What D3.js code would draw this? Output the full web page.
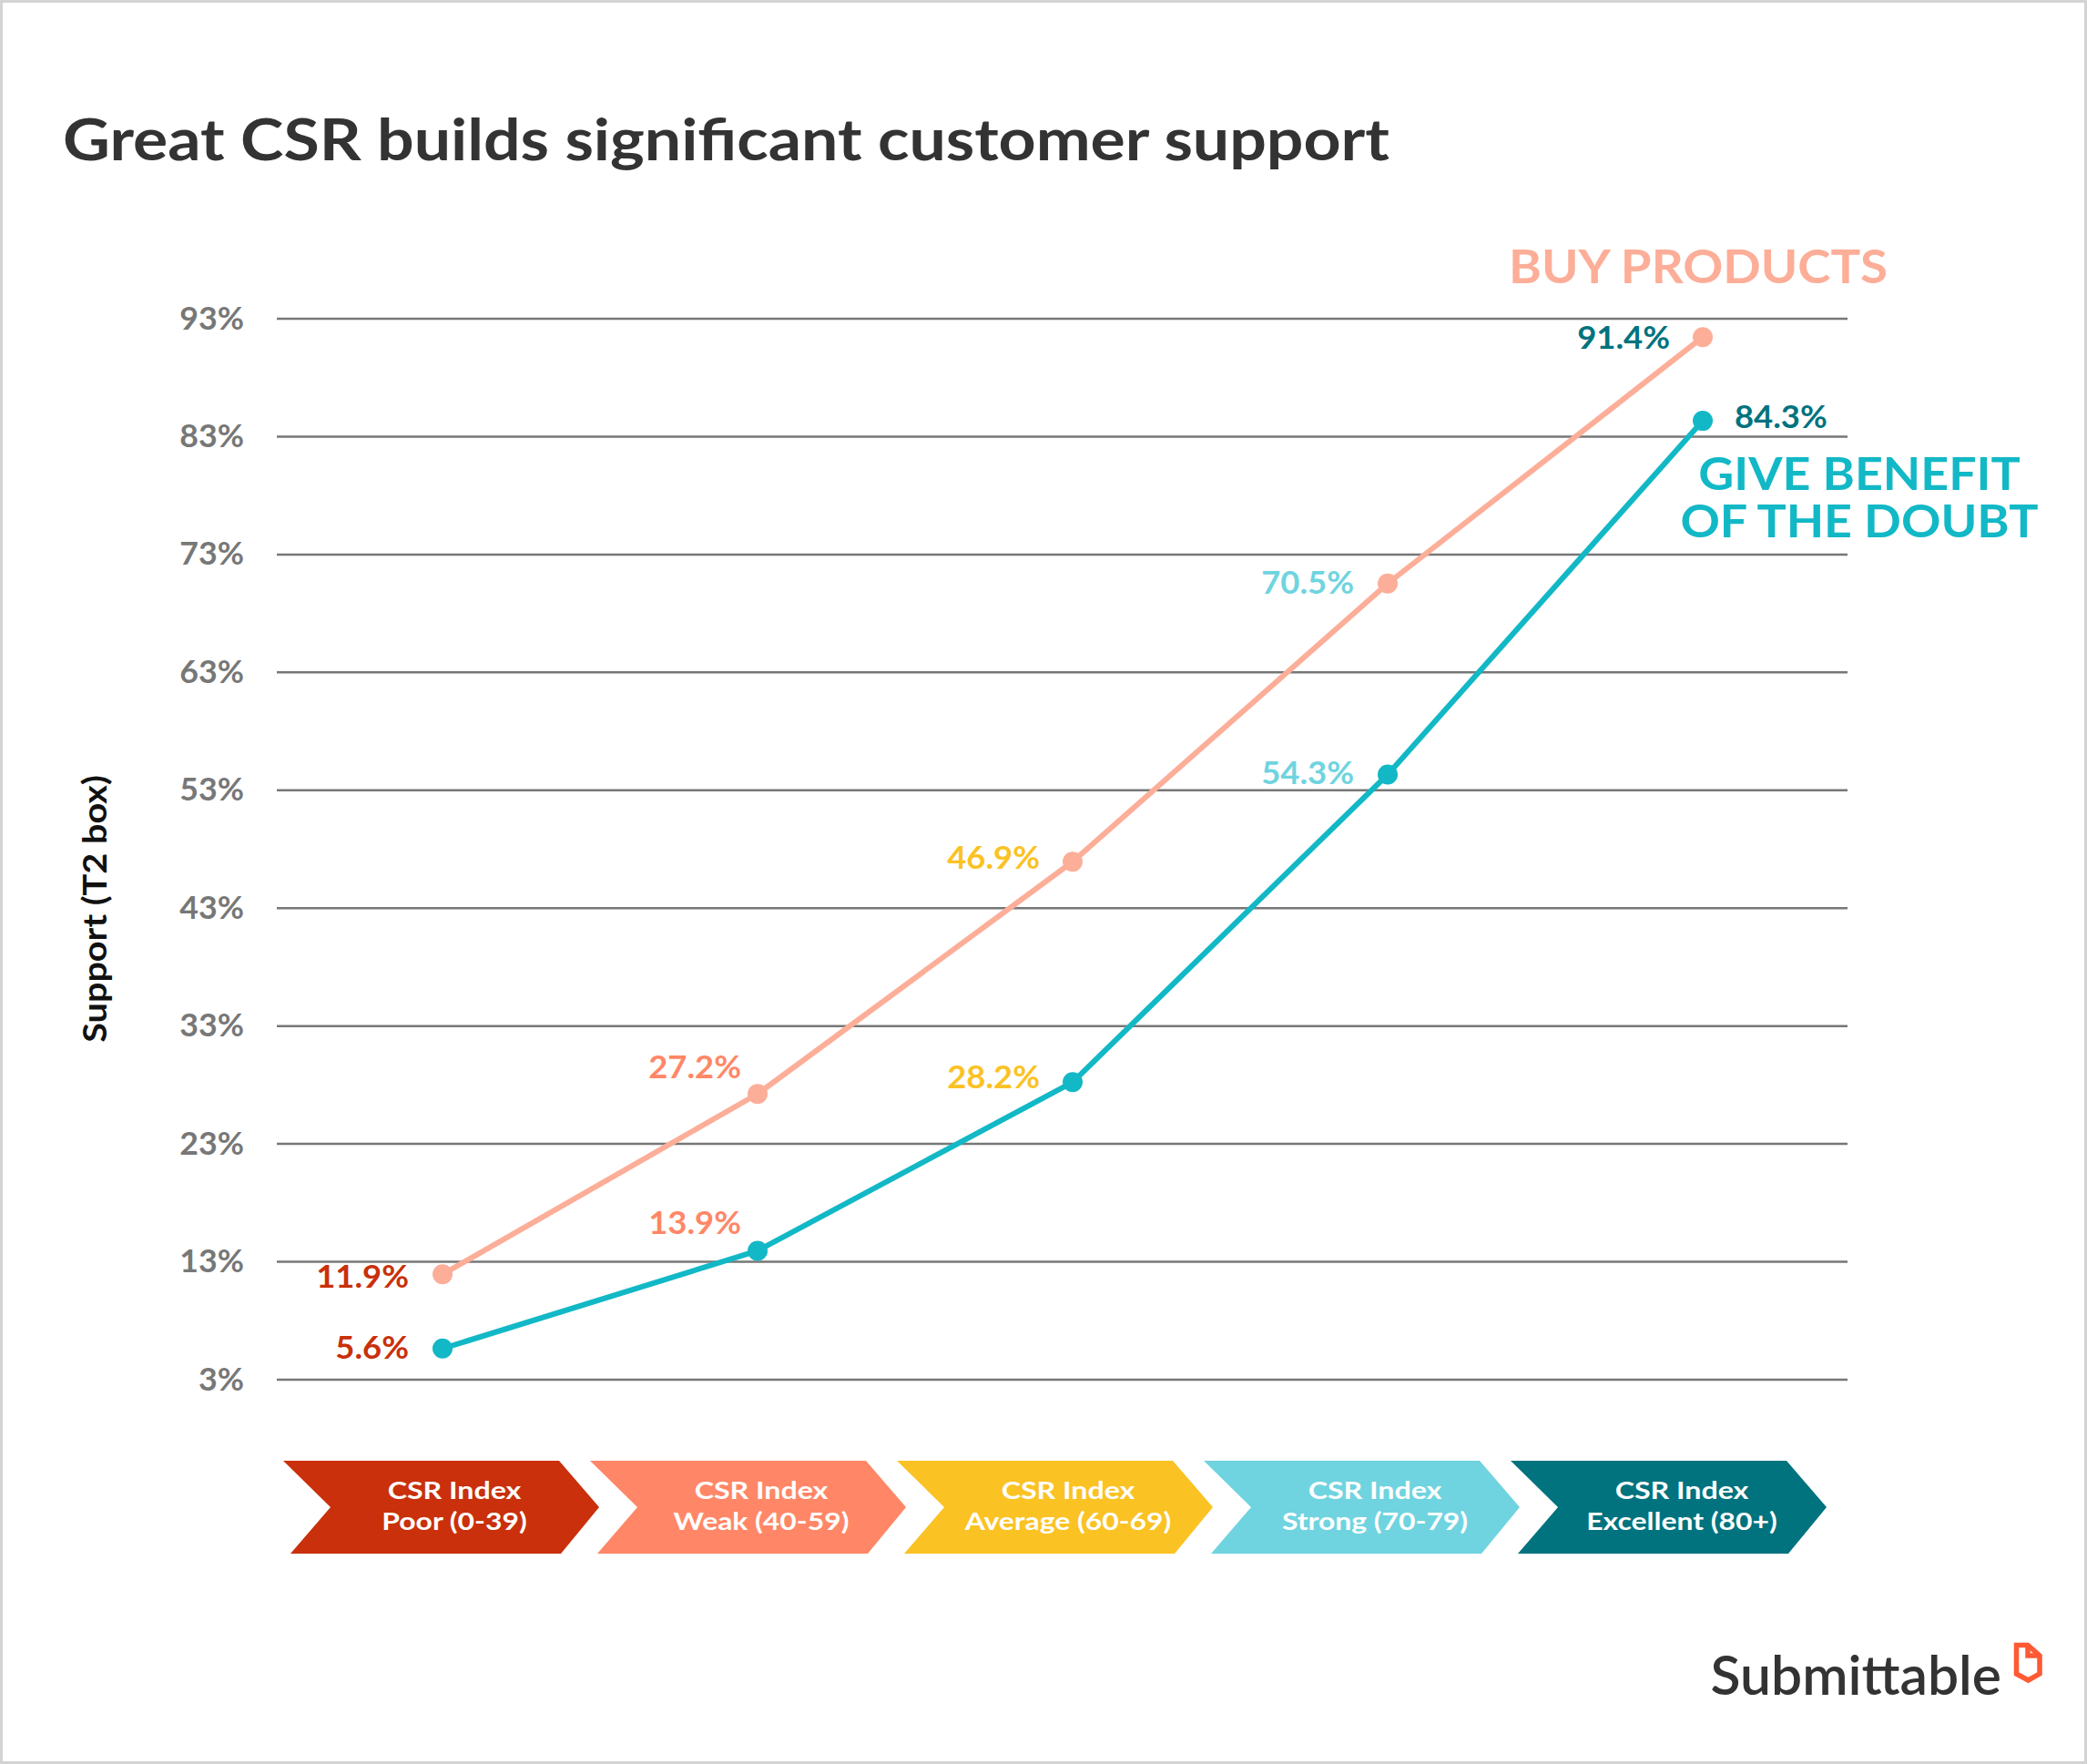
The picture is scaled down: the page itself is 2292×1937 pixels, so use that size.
<!DOCTYPE html>
<html>
<head>
<meta charset="utf-8">
<script src="https://cdn.jsdelivr.net/npm/d3@7"></script>
<style>
  html, body { margin: 0; padding: 0; background: #ffffff; }
  svg { display: block; }
  text { font-family: Lato, "Open Sans", sans-serif; }
</style>
</head>
<body>
<svg id="chart" width="2292" height="1937"></svg>
<script>
// ---------------- data ----------------
const title = "Great CSR builds significant customer support";
const yAxisTitle = "Support (T2 box)";
const categories = ["Poor (0-39)", "Weak (40-59)", "Average (60-69)", "Strong (70-79)", "Excellent (80+)"];
const categoryPrefix = "CSR Index";
const buyProducts = [11.9, 27.2, 46.9, 70.5, 91.4];
const giveBenefit = [5.6, 13.9, 28.2, 54.3, 84.3];
const yTicks = [3, 13, 23, 33, 43, 53, 63, 73, 83, 93];
const buyName = ["BUY PRODUCTS"];
const giveName = ["GIVE BENEFIT", "OF THE DOUBT"];
const brand = "Submittable";

// ---------------- styles ----------------
const categoryColors = ["#C9300B", "#FF8767", "#FBC224", "#6FD4DF", "#00737E"];
const buyColor = "#FCAE98";
const giveColor = "#12B8C6";

// label placement per category (anchor, dx, dy from point)
const buyLabelPlace = [
  { anchor: "end", dx: -37, dy: 15 },
  { anchor: "end", dx: -18, dy: -17 },
  { anchor: "end", dx: -36, dy: 8 },
  { anchor: "end", dx: -37, dy: 11 },
  { anchor: "end", dx: -36, dy: 13 }
];
const giveLabelPlace = [
  { anchor: "end", dx: -37, dy: 11 },
  { anchor: "end", dx: -18, dy: -18 },
  { anchor: "end", dx: -36, dy: 7 },
  { anchor: "end", dx: -37, dy: 11 },
  { anchor: "start", dx: 35, dy: 8 }
];

// widen glyphs to mimic the reference's wider typeface
function stretch(sel, factor) {
  sel.each(function () {
    const w = this.getComputedTextLength();
    this.setAttribute("textLength", (w * factor).toFixed(1));
    this.setAttribute("lengthAdjust", "spacingAndGlyphs");
  });
  return sel;
}

const W = 2292, H = 1937;
const svg = d3.select("#chart");

// background + frame
svg.append("rect").attr("x", 0).attr("y", 0).attr("width", W).attr("height", H).attr("fill", "#fff");
svg.append("rect").attr("x", 1.5).attr("y", 1.5).attr("width", W - 3).attr("height", H - 3)
  .attr("fill", "none").attr("stroke", "#d3d3d3").attr("stroke-width", 3);

// title
stretch(svg.append("text").attr("x", 69).attr("y", 176)
  .attr("font-size", 64).attr("font-weight", 700).attr("fill", "#333333")
  .text(title), 1.118);

// scales
const gridLeft = 304, gridRight = 2029;
const y = d3.scaleLinear().domain([3, 93]).range([1514.5, 349.5]);
const x = d3.scalePoint().domain(categories).range([486, 1870]);
const xc = d3.scalePoint().domain(categories).range([484, 1832]);

// y axis with gridlines
const yAxis = d3.axisLeft(y).tickValues(yTicks).tickFormat(d => d + "%")
  .tickSize(-(gridRight - gridLeft)).tickPadding(36);
const gy = svg.append("g").attr("transform", `translate(${gridLeft},0)`).call(yAxis);
gy.select(".domain").remove();
gy.selectAll(".tick line").attr("stroke", "#777777").attr("stroke-width", 2.5);
stretch(gy.selectAll(".tick text").attr("fill", "#777777").attr("font-size", 34).attr("font-weight", 700)
  .attr("font-family", "Lato, sans-serif").attr("dy", "0.34em"), 1.05);

// y axis title
stretch(svg.append("text").attr("transform", "translate(117,998) rotate(-90)")
  .attr("text-anchor", "middle").attr("font-size", 36).attr("font-weight", 700).attr("fill", "#111")
  .text(yAxisTitle), 1.1);

// lines
const line = d3.line().x((d, i) => x(categories[i])).y(d => y(d));
svg.append("path").datum(buyProducts).attr("d", line).attr("fill", "none")
  .attr("stroke", buyColor).attr("stroke-width", 6).attr("stroke-linejoin", "round");
svg.append("path").datum(giveBenefit).attr("d", line).attr("fill", "none")
  .attr("stroke", giveColor).attr("stroke-width", 6).attr("stroke-linejoin", "round");

// points
svg.selectAll(".pb").data(buyProducts).enter().append("circle")
  .attr("cx", (d, i) => x(categories[i])).attr("cy", d => y(d)).attr("r", 11).attr("fill", buyColor);
svg.selectAll(".pg").data(giveBenefit).enter().append("circle")
  .attr("cx", (d, i) => x(categories[i])).attr("cy", d => y(d)).attr("r", 11).attr("fill", giveColor);

// value labels
function addLabels(values, place) {
  const t = svg.selectAll(null).data(values).enter().append("text")
    .attr("x", (d, i) => x(categories[i]) + place[i].dx)
    .attr("y", (d, i) => y(d) + place[i].dy)
    .attr("text-anchor", (d, i) => place[i].anchor)
    .attr("font-size", 34).attr("font-weight", 700)
    .attr("fill", (d, i) => categoryColors[i])
    .text(d => d.toFixed(1) + "%");
  stretch(t, 1.07);
}
addLabels(buyProducts, buyLabelPlace);
addLabels(giveBenefit, giveLabelPlace);

// series names
stretch(svg.selectAll(null).data(buyName).enter().append("text")
  .attr("x", 1865).attr("y", 311).attr("text-anchor", "middle")
  .attr("font-size", 51).attr("font-weight", 700).attr("fill", buyColor).text(d => d), 1.07);
stretch(svg.selectAll(null).data(giveName).enter().append("text")
  .attr("x", 2042).attr("y", (d, i) => 538 + i * 52).attr("text-anchor", "middle")
  .attr("font-size", 50).attr("font-weight", 700).attr("fill", giveColor).text(d => d), 1.075);

// chevrons
const chevTop = 1604, chevBot = 1706, chevMid = 1655;
function chevronPath(cx) {
  const L = cx - 173;
  return `M${L},${chevTop} L${L + 303},${chevTop} L${L + 347},${chevMid} L${L + 305},${chevBot} L${L + 8},${chevBot} L${L + 52},${chevMid} Z`;
}
const chev = svg.selectAll(".chev").data(categories).enter().append("g");
chev.append("path").attr("d", d => chevronPath(xc(d))).attr("fill", (d, i) => categoryColors[i]);
stretch(chev.append("text").attr("text-anchor", "middle").attr("fill", "#fff")
  .attr("font-size", 27).attr("font-weight", 700)
  .attr("x", d => xc(d) + 15).attr("y", 1646).text(categoryPrefix), 1.19);
stretch(chev.append("text").attr("text-anchor", "middle").attr("fill", "#fff")
  .attr("font-size", 27).attr("font-weight", 700)
  .attr("x", d => xc(d) + 15).attr("y", 1680).text(d => d), 1.18);

// brand logo
stretch(svg.append("text").attr("x", 2198).attr("y", 1861).attr("text-anchor", "end")
  .attr("font-size", 60).attr("font-weight", 600).attr("fill", "#333333").text(brand), 1.01);
svg.append("path").attr("d", "M2214.5,1806.5 L2227,1806.5 L2240,1818 L2240,1838 L2227.5,1845 L2214.5,1838 Z")
  .attr("fill", "none").attr("stroke", "#FF5A33").attr("stroke-width", 5.5).attr("stroke-linejoin", "miter");
svg.append("path").attr("d", "M2227,1806.5 L2227,1818 L2240,1818")
  .attr("fill", "none").attr("stroke", "#FF5A33").attr("stroke-width", 5.5);
</script>
</body>
</html>
